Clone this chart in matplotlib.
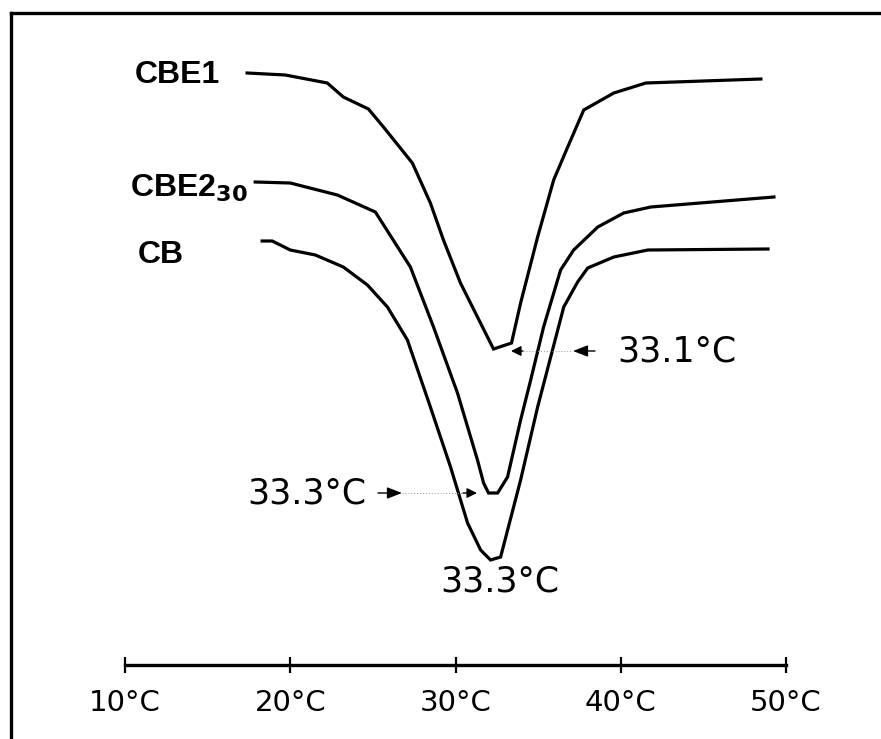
import matplotlib
matplotlib.use("Agg")
import matplotlib.pyplot as plt
from matplotlib.lines import Line2D

# ---- data (temperature in °C, heat-flow signal in arbitrary units) ----
cbe1_t = [17.39, 19.70, 22.24, 23.21, 24.73, 25.64, 27.39, 28.48, 29.27, 30.30,
          32.30, 33.39, 33.94, 34.97, 35.94, 36.79, 37.76, 39.58, 41.52, 48.48]
cbe1_h = [59.2, 59.0, 58.2, 56.8, 55.6, 53.8, 50.2, 46.2, 42.5, 38.2,
          31.6, 32.2, 36.2, 42.8, 48.5, 51.8, 55.5, 57.2, 58.2, 58.6]

cbe2_t = [17.88, 20.00, 22.85, 25.15, 27.27, 28.67, 30.12, 31.33, 31.70, 32.00,
          32.55, 33.15, 33.94, 34.55, 35.33, 36.36, 37.15, 38.61, 40.18, 41.82, 49.27]
cbe2_h = [48.3, 48.2, 47.0, 45.3, 39.8, 33.8, 27.2, 20.5, 18.2, 17.2,
          17.2, 18.8, 24.5, 28.5, 33.8, 39.5, 41.5, 43.8, 45.2, 45.8, 46.8]

cb_t = [18.30, 18.91, 20.00, 21.52, 23.21, 24.67, 25.88, 27.09, 28.48, 29.70,
        30.73, 31.52, 32.12, 32.73, 33.94, 34.97, 36.55, 37.39, 38.00, 39.58, 41.64, 48.91]
cb_h = [42.4, 42.4, 41.5, 41.0, 39.8, 38.0, 35.8, 32.5, 25.8, 19.8,
        14.2, 11.5, 10.5, 10.8, 18.5, 25.8, 35.8, 38.3, 39.7, 40.8, 41.5, 41.6]

tick_values = [10, 20, 30, 40, 50]
tick_labels = ["10°C", "20°C", "30°C", "40°C", "50°C"]

peak_labels = ["33.1°C", "33.3°C", "33.3°C"]
series_labels = ["CBE1", "CBE2", "CB"]

# ---- figure ----
W, H = 881, 739
fig = plt.figure(figsize=(W / 100, H / 100), dpi=100)
fig.patch.set_facecolor("white")

ax = fig.add_axes([125 / W, (H - 665) / H, 661 / W, (665 - 13) / H])
ax.set_xlim(10, 50)
ax.set_ylim(0, 65.2)
ax.set_facecolor("none")
for s in ["left", "right", "top"]:
    ax.spines[s].set_visible(False)
ax.spines["bottom"].set_linewidth(2.4)
ax.set_yticks([])
ax.set_xticks(tick_values)
ax.set_xticklabels(tick_labels, fontsize=21, family="DejaVu Sans")
ax.tick_params(axis="x", direction="inout", length=12, width=1.6, pad=11)

lw = 2.3
for t, h in [(cbe1_t, cbe1_h), (cbe2_t, cbe2_h), (cb_t, cb_h)]:
    ax.plot(t, h, color="black", lw=lw, solid_joinstyle="miter", clip_on=False)

# series labels
bold = dict(fontsize=23, fontweight="bold", family="Liberation Sans",
            va="center", ha="left", color="black")
ax.text(10.61, 59.0, series_labels[0], **bold)
ax.text(10.30, 47.7, series_labels[1] + r"$_{\mathbf{30}}$", **bold)
ax.text(10.79, 41.0, series_labels[2], **bold)

# peak annotations
ann = dict(fontsize=25, family="DejaVu Sans", color="black", va="center")
ax.text(39.77, 31.4, peak_labels[0], ha="left", **ann)
ax.text(24.64, 17.2, peak_labels[1], ha="right", **ann)
ax.text(32.69, 8.3, peak_labels[2], ha="center", **ann)


def head(tip, back, y, big=True):
    hl = 0.9 if big else 0.6
    hw = 0.35 if big else 0.3
    ax.annotate("", xy=(tip, y), xytext=(back, y),
                arrowprops=dict(arrowstyle=f"-|>,head_length={hl},head_width={hw}",
                                color="black", lw=1.0, shrinkA=0, shrinkB=0),
                annotation_clip=False)


# 33.1 arrows
head(37.11, 38.44, 31.4)
ax.plot([34.08, 37.11], [31.4, 31.4], color="0.6", lw=0.7, ls=(0, (1, 2)))
head(33.36, 34.08, 31.4, big=False)
# left 33.3 arrows
head(26.76, 25.31, 17.2)
ax.plot([26.76, 30.45], [17.2, 17.2], color="0.6", lw=0.7, ls=(0, (1, 2)))
head(31.30, 30.45, 17.2, big=False)

# frame lines (top and left)
fig.add_artist(Line2D([11 / W, 1.0], [(H - 13) / H] * 2, color="black", lw=2.4,
                      transform=fig.transFigure))
fig.add_artist(Line2D([11 / W] * 2, [0.0, (H - 13) / H], color="black", lw=2.4,
                      transform=fig.transFigure))

fig.savefig("out.png", dpi=100, facecolor="white")
